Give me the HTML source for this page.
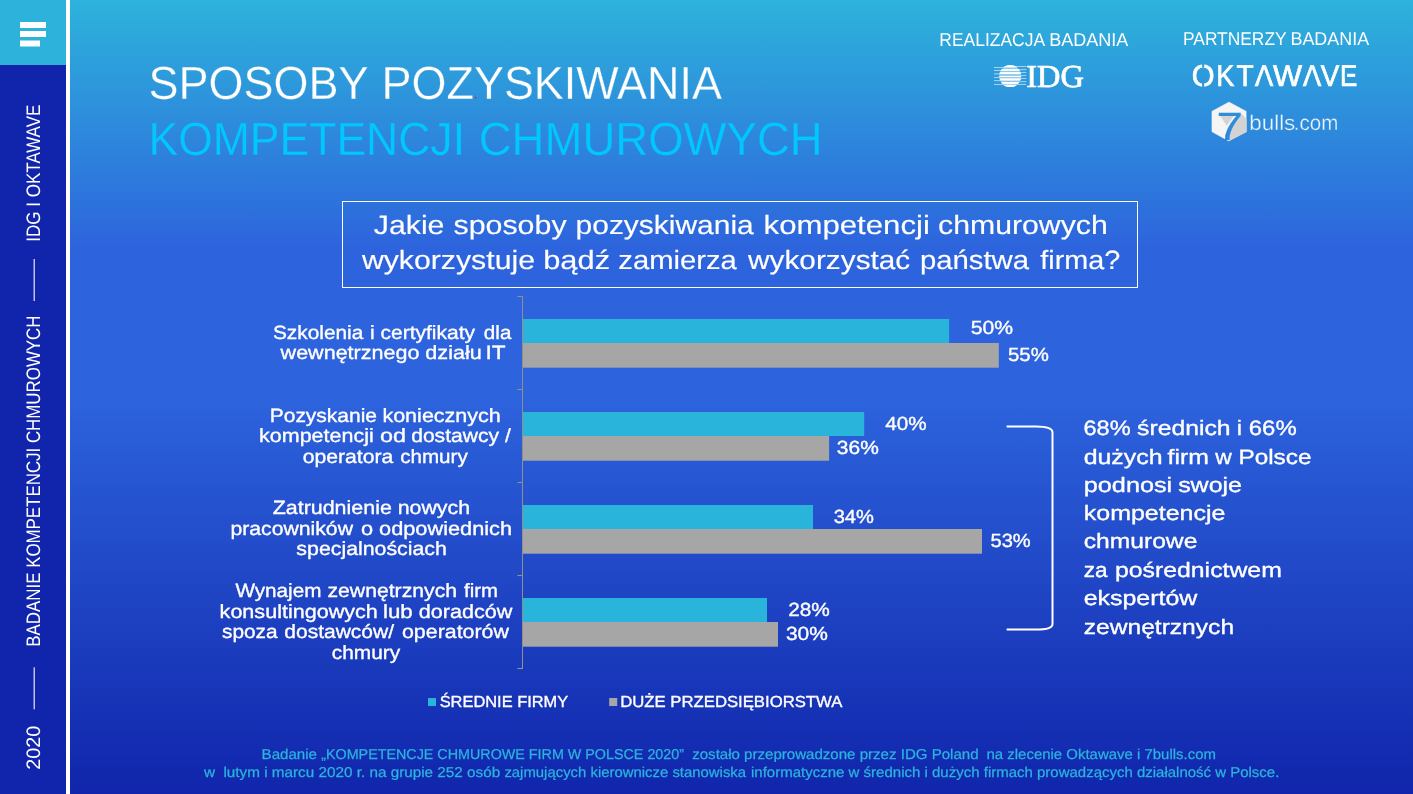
<!DOCTYPE html>
<html lang="pl">
<head>
<meta charset="utf-8">
<title>Sposoby pozyskiwania kompetencji chmurowych</title>
<style>
html,body{margin:0;padding:0;background:#1226a6;overflow:hidden}
svg{display:block;will-change:transform}
text{font-family:"Liberation Sans", sans-serif;white-space:pre;text-rendering:geometricPrecision}
</style>
</head>
<body>
<svg width="1413" height="794" viewBox="0 0 1413 794">
<defs>
<linearGradient id="bg" x1="0" y1="0" x2="0" y2="794" gradientUnits="userSpaceOnUse">
<stop offset="0" stop-color="#2db3db"/>
<stop offset="0.315" stop-color="#2d63dd"/>
<stop offset="0.503" stop-color="#2d63dd"/>
<stop offset="1" stop-color="#1025ab"/>
</linearGradient>
</defs>
<rect x="0" y="0" width="1413" height="794" fill="url(#bg)"/>
<rect x="0" y="0" width="66" height="65" fill="#2db3db"/>
<rect x="0" y="65" width="66" height="729" fill="#1025ab"/>
<rect x="66" y="0" width="4" height="794" fill="#fff"/>
<rect x="20" y="22" width="26" height="6" fill="#fff"/>
<rect x="20" y="31" width="26" height="6" fill="#fff"/>
<rect x="20" y="40.5" width="20" height="6" fill="#fff"/>
<text transform="translate(40.2 241.8) rotate(-90)" x="0" y="0" font-size="19.5" fill="#fff" textLength="137.2" lengthAdjust="spacingAndGlyphs">IDG I OKTAWAVE</text>
<text transform="translate(40.2 646.7) rotate(-90)" x="0" y="0" font-size="19.5" fill="#fff" textLength="331.2" lengthAdjust="spacingAndGlyphs">BADANIE KOMPETENCJI CHMUROWYCH</text>
<text transform="translate(40.2 769.8) rotate(-90)" x="0" y="0" font-size="19.5" fill="#fff" textLength="44" lengthAdjust="spacingAndGlyphs">2020</text>
<rect x="33.6" y="259" width="1.2" height="42" fill="#fff" opacity="0.9"/>
<rect x="33.6" y="667.3" width="1.2" height="42" fill="#fff" opacity="0.9"/>
<text y="99" font-size="46.5" fill="#fff" stroke="url(#bg)" stroke-width="0.3"><tspan x="148.58" textLength="219.05" lengthAdjust="spacingAndGlyphs">SPOSOBY</tspan> <tspan x="381.50" textLength="340.51" lengthAdjust="spacingAndGlyphs">POZYSKIWANIA</tspan></text>
<text y="155" font-size="46.5" fill="#00c8ff" stroke="url(#bg)" stroke-width="0.3"><tspan x="148.44" textLength="316.56" lengthAdjust="spacingAndGlyphs">KOMPETENCJI</tspan> <tspan x="478.72" textLength="343.91" lengthAdjust="spacingAndGlyphs">CHMUROWYCH</tspan></text>
<circle cx="475.5" cy="97.6" r="0.9" fill="#e0202a"/>
<text y="46.4" font-size="18.7" fill="#fff"><tspan x="939.32" textLength="104.82" lengthAdjust="spacingAndGlyphs">REALIZACJA</tspan> <tspan x="1049.26" textLength="79.15" lengthAdjust="spacingAndGlyphs">BADANIA</tspan></text>
<text y="45.0" font-size="18.6" fill="#fff"><tspan x="1183.01" textLength="103.30" lengthAdjust="spacingAndGlyphs">PARTNERZY</tspan> <tspan x="1290.47" textLength="78.64" lengthAdjust="spacingAndGlyphs">BADANIA</tspan></text>
<g>
<clipPath id="gl"><circle cx="1010.2" cy="76.1" r="11"/></clipPath>
<rect x="994" y="66.95" width="12" height="1.1" fill="#fff" opacity="0.55"/>
<rect x="994" y="69.95" width="12" height="1.1" fill="#fff" opacity="0.55"/>
<rect x="994" y="73.35000000000001" width="12" height="1.1" fill="#fff" opacity="0.55"/>
<rect x="994" y="76.95" width="12" height="1.1" fill="#fff" opacity="0.55"/>
<rect x="994" y="80.05" width="12" height="1.1" fill="#fff" opacity="0.55"/>
<rect x="994" y="83.95" width="12" height="1.1" fill="#fff" opacity="0.55"/>
<rect x="1014" y="65.95" width="12.3" height="1.1" fill="#fff" opacity="0.55"/>
<rect x="1014" y="69.05" width="12.3" height="1.1" fill="#fff" opacity="0.55"/>
<rect x="1014" y="71.95" width="12.3" height="1.1" fill="#fff" opacity="0.55"/>
<rect x="1014" y="74.95" width="12.3" height="1.1" fill="#fff" opacity="0.55"/>
<rect x="1014" y="77.95" width="12.3" height="1.1" fill="#fff" opacity="0.55"/>
<rect x="1014" y="81.05" width="12.3" height="1.1" fill="#fff" opacity="0.55"/>
<rect x="1014" y="83.85000000000001" width="12.3" height="1.1" fill="#fff" opacity="0.55"/>
<g clip-path="url(#gl)">
<rect x="998" y="64" width="25" height="24" fill="url(#bg)"/>
<rect x="998" y="64" width="25" height="24" fill="#fff" opacity="0.45"/>
<rect x="998" y="65.0" width="25" height="2.5" fill="#fff"/>
<rect x="998" y="69.1" width="25" height="1.8" fill="#fff"/>
<rect x="998" y="72.1" width="25" height="2.0" fill="#fff"/>
<rect x="998" y="75.9" width="25" height="1.2" fill="#fff"/>
<rect x="998" y="78.3" width="25" height="2.3" fill="#fff"/>
<rect x="998" y="82.0" width="25" height="2.2" fill="#fff"/>
<rect x="998" y="85.0" width="25" height="2.5" fill="#fff"/>
</g></g>
<text x="1026.27" y="87.1" font-size="32" fill="#fff" style='font-family:"Liberation Serif", serif' textLength="57.58" lengthAdjust="spacingAndGlyphs" stroke="#fff" stroke-width="0.7">IDG</text>
<text y="86.0" font-size="30.2" fill="#fff" stroke="#fff" stroke-width="0.7"><tspan x="1191.78" textLength="22.82" lengthAdjust="spacingAndGlyphs">O</tspan><tspan x="1216.13" textLength="18.10" lengthAdjust="spacingAndGlyphs">K</tspan><tspan x="1236.44" textLength="17.15" lengthAdjust="spacingAndGlyphs">T</tspan><tspan x="1254.90" textLength="18.16" lengthAdjust="spacingAndGlyphs">A</tspan><tspan x="1273.05" textLength="29.07" lengthAdjust="spacingAndGlyphs">W</tspan><tspan x="1302.90" textLength="18.16" lengthAdjust="spacingAndGlyphs">A</tspan><tspan x="1320.86" textLength="18.53" lengthAdjust="spacingAndGlyphs">V</tspan><tspan x="1339.93" textLength="17.26" lengthAdjust="spacingAndGlyphs">E</tspan></text>
<rect x="1202.10" y="62.5" width="2.1" height="5.2" fill="url(#bg)"/>
<rect x="1202.10" y="82.6" width="2.1" height="5.2" fill="url(#bg)"/>
<polygon points="1259.55,81.58 1268.45,81.58 1266.69,76.56 1261.33,76.56" fill="url(#bg)"/>
<polygon points="1307.55,81.58 1316.45,81.58 1314.69,76.56 1309.33,76.56" fill="url(#bg)"/>
<rect x="1344.82" y="73.2" width="2.2" height="4.4" fill="url(#bg)"/>
<path d="M1229 102 L1246.2 111.3 V131.8 L1228.6 140.9 L1211.9 131.8 V111.3 Z" fill="#f5f5f6" stroke="#f5f5f6" stroke-width="0.4" stroke-linejoin="round"/>
<path d="M1219.8 115.3 H1234.2 L1226.8 125.8 Z" fill="#d3d3d4"/>
<path d="M1240.4 112.8 L1246.6 119.2 V132 L1228.6 141.3 C1229.5 132 1233.5 122 1240.4 112.8 Z" fill="#d3d3d4"/>
<text fill="#ecf4fc"><tspan x="1216.43" y="140" font-size="39.3" fill="url(#bg)" stroke="url(#bg)" stroke-width="0.2" textLength="26.40" lengthAdjust="spacingAndGlyphs">7</tspan><tspan x="1249.24" y="129.8" font-size="21.2" stroke="url(#bg)" stroke-width="0.3" textLength="46.08" lengthAdjust="spacingAndGlyphs">bulls</tspan><tspan x="1293.86" y="129.8" font-size="21.2" stroke="url(#bg)" stroke-width="0.3" textLength="44.42" lengthAdjust="spacingAndGlyphs">.com</tspan></text>
<rect x="342.5" y="201.5" width="795" height="86" fill="none" stroke="#fff" stroke-width="1"/>
<text y="233.9" font-size="26.4" fill="#fff" stroke="#fff" stroke-width="0.15"><tspan x="373.75" textLength="70.70" lengthAdjust="spacingAndGlyphs">Jakie</tspan> <tspan x="453.49" textLength="113.10" lengthAdjust="spacingAndGlyphs">sposoby</tspan> <tspan x="575.55" textLength="178.22" lengthAdjust="spacingAndGlyphs">pozyskiwania</tspan> <tspan x="763.57" textLength="166.29" lengthAdjust="spacingAndGlyphs">kompetencji</tspan> <tspan x="938.09" textLength="169.66" lengthAdjust="spacingAndGlyphs">chmurowych</tspan></text>
<text y="268.7" font-size="26.4" fill="#fff" stroke="#fff" stroke-width="0.15"><tspan x="361.90" textLength="173.12" lengthAdjust="spacingAndGlyphs">wykorzystuje</tspan> <tspan x="543.19" textLength="66.90" lengthAdjust="spacingAndGlyphs">bądź</tspan> <tspan x="618.33" textLength="118.52" lengthAdjust="spacingAndGlyphs">zamierza</tspan> <tspan x="748.10" textLength="162.16" lengthAdjust="spacingAndGlyphs">wykorzystać</tspan> <tspan x="919.90" textLength="109.09" lengthAdjust="spacingAndGlyphs">państwa</tspan> <tspan x="1040.27" textLength="80.04" lengthAdjust="spacingAndGlyphs">firma?</tspan></text>
<rect x="522" y="296" width="1" height="373" fill="#8f8f90"/>
<rect x="517.4" y="295.95" width="4.7" height="1.1" fill="#8f8f90"/>
<rect x="517.4" y="388.95" width="4.7" height="1.1" fill="#8f8f90"/>
<rect x="517.4" y="481.95" width="4.7" height="1.1" fill="#8f8f90"/>
<rect x="517.4" y="574.95" width="4.7" height="1.1" fill="#8f8f90"/>
<rect x="517.4" y="667.95" width="4.7" height="1.1" fill="#8f8f90"/>
<rect x="523" y="319" width="426.1" height="24" fill="#29b4db"/>
<rect x="523" y="343" width="475.8" height="24.7" fill="#a6a6a6"/>
<rect x="523" y="412" width="341.2" height="24" fill="#29b4db"/>
<rect x="523" y="436" width="306.1" height="24.7" fill="#a6a6a6"/>
<rect x="523" y="505" width="290.0" height="24" fill="#29b4db"/>
<rect x="523" y="529" width="459.0" height="24.7" fill="#a6a6a6"/>
<rect x="523" y="598" width="244.0" height="24" fill="#29b4db"/>
<rect x="523" y="622" width="255.0" height="24.7" fill="#a6a6a6"/>
<text x="970.65" y="333.7" font-size="19" fill="#fff" textLength="42.32" lengthAdjust="spacingAndGlyphs" stroke="#fff" stroke-width="0.35">50%</text>
<text x="1007.99" y="360.7" font-size="19" fill="#fff" textLength="40.76" lengthAdjust="spacingAndGlyphs" stroke="#fff" stroke-width="0.35">55%</text>
<text x="885.39" y="429.7" font-size="19" fill="#fff" textLength="41.37" lengthAdjust="spacingAndGlyphs" stroke="#fff" stroke-width="0.35">40%</text>
<text x="836.86" y="453.8" font-size="19" fill="#fff" textLength="41.9" lengthAdjust="spacingAndGlyphs" stroke="#fff" stroke-width="0.35">36%</text>
<text x="833.7" y="522.7" font-size="19" fill="#fff" textLength="40.24" lengthAdjust="spacingAndGlyphs" stroke="#fff" stroke-width="0.35">34%</text>
<text x="990.5" y="546.9000000000001" font-size="19" fill="#fff" textLength="40.24" lengthAdjust="spacingAndGlyphs" stroke="#fff" stroke-width="0.35">53%</text>
<text x="788.16" y="615.8000000000001" font-size="19" fill="#fff" textLength="41.7" lengthAdjust="spacingAndGlyphs" stroke="#fff" stroke-width="0.35">28%</text>
<text x="785.96" y="639.5" font-size="19" fill="#fff" textLength="41.9" lengthAdjust="spacingAndGlyphs" stroke="#fff" stroke-width="0.35">30%</text>
<text y="338.7" font-size="19.2" fill="#fff" stroke="#fff" stroke-width="0.35"><tspan x="272.96" textLength="90.36" lengthAdjust="spacingAndGlyphs">Szkolenia</tspan> <tspan x="369.93" textLength="105.19" lengthAdjust="spacingAndGlyphs">i certyfikaty</tspan> <tspan x="483.88" textLength="27.52" lengthAdjust="spacingAndGlyphs">dla</tspan></text>
<text y="358.59999999999997" font-size="19.2" fill="#fff" stroke="#fff" stroke-width="0.35"><tspan x="280.60" textLength="138.84" lengthAdjust="spacingAndGlyphs">wewnętrznego</tspan> <tspan x="425.34" textLength="56.43" lengthAdjust="spacingAndGlyphs">działu</tspan> <tspan x="485.47" textLength="20.05" lengthAdjust="spacingAndGlyphs">IT</tspan></text>
<text y="421.5" font-size="19.2" fill="#fff" stroke="#fff" stroke-width="0.35"><tspan x="269.72" textLength="107.30" lengthAdjust="spacingAndGlyphs">Pozyskanie</tspan> <tspan x="382.40" textLength="118.46" lengthAdjust="spacingAndGlyphs">koniecznych</tspan></text>
<text y="442.0" font-size="19.2" fill="#fff" stroke="#fff" stroke-width="0.35"><tspan x="259.10" textLength="114.62" lengthAdjust="spacingAndGlyphs">kompetencji</tspan> <tspan x="379.96" textLength="26.01" lengthAdjust="spacingAndGlyphs">od</tspan> <tspan x="411.16" textLength="99.63" lengthAdjust="spacingAndGlyphs">dostawcy /</tspan></text>
<text y="462.5" font-size="19.2" fill="#fff" stroke="#fff" stroke-width="0.35"><tspan x="302.65" textLength="90.67" lengthAdjust="spacingAndGlyphs">operatora</tspan> <tspan x="400.18" textLength="67.59" lengthAdjust="spacingAndGlyphs">chmury</tspan></text>
<text y="514.1999999999999" font-size="19.2" fill="#fff" stroke="#fff" stroke-width="0.35"><tspan x="272.66" textLength="119.19" lengthAdjust="spacingAndGlyphs">Zatrudnienie</tspan> <tspan x="397.71" textLength="72.29" lengthAdjust="spacingAndGlyphs">nowych</tspan></text>
<text y="534.6999999999999" font-size="19.2" fill="#fff" stroke="#fff" stroke-width="0.35"><tspan x="230.42" textLength="122.58" lengthAdjust="spacingAndGlyphs">pracowników</tspan> <tspan x="360.93" textLength="151.18" lengthAdjust="spacingAndGlyphs">o odpowiednich</tspan></text>
<text y="555.1999999999999" font-size="19.2" fill="#fff" stroke="#fff" stroke-width="0.35"><tspan x="296.36" textLength="150.52" lengthAdjust="spacingAndGlyphs">specjalnościach</tspan></text>
<text y="597.0" font-size="19.2" fill="#fff" stroke="#fff" stroke-width="0.35"><tspan x="235.40" textLength="86.02" lengthAdjust="spacingAndGlyphs">Wynajem</tspan> <tspan x="327.45" textLength="129.60" lengthAdjust="spacingAndGlyphs">zewnętrznych</tspan> <tspan x="463.99" textLength="33.95" lengthAdjust="spacingAndGlyphs">firm</tspan></text>
<text y="617.5" font-size="19.2" fill="#fff" stroke="#fff" stroke-width="0.35"><tspan x="219.60" textLength="158.26" lengthAdjust="spacingAndGlyphs">konsultingowych</tspan> <tspan x="382.95" textLength="29.73" lengthAdjust="spacingAndGlyphs">lub</tspan> <tspan x="418.74" textLength="93.58" lengthAdjust="spacingAndGlyphs">doradców</tspan></text>
<text y="638.0" font-size="19.2" fill="#fff" stroke="#fff" stroke-width="0.35"><tspan x="221.97" textLength="55.70" lengthAdjust="spacingAndGlyphs">spoza</tspan> <tspan x="284.26" textLength="109.83" lengthAdjust="spacingAndGlyphs">dostawców/</tspan> <tspan x="401.94" textLength="107.02" lengthAdjust="spacingAndGlyphs">operatorów</tspan></text>
<text y="658.5" font-size="19.2" fill="#fff" stroke="#fff" stroke-width="0.35"><tspan x="331.77" textLength="68.40" lengthAdjust="spacingAndGlyphs">chmury</tspan></text>
<rect x="428" y="698" width="8" height="8" fill="#29b4db"/>
<text x="439.66" y="706.5" font-size="16" fill="#fff" textLength="128.54" lengthAdjust="spacingAndGlyphs" stroke="#fff" stroke-width="0.35">ŚREDNIE FIRMY</text>
<rect x="609.2" y="698" width="8" height="8" fill="#a6a6a6"/>
<text x="620.26" y="706.5" font-size="16" fill="#fff" textLength="222.08" lengthAdjust="spacingAndGlyphs" stroke="#fff" stroke-width="0.35">DUŻE PRZEDSIĘBIORSTWA</text>
<path d="M1006.6 426.6 H1036 C1046 426.6 1052.5 428.5 1052.5 432.5 V624 C1052.5 628 1046 629.6 1036 629.6 H1006.6" fill="none" stroke="#fff" stroke-width="2"/>
<text y="435.4" font-size="20.8" fill="#fff" stroke="#fff" stroke-width="0.35"><tspan x="1083.52" textLength="47.14" lengthAdjust="spacingAndGlyphs">68%</tspan> <tspan x="1137.06" textLength="93.45" lengthAdjust="spacingAndGlyphs">średnich</tspan> <tspan x="1236.85" textLength="59.83" lengthAdjust="spacingAndGlyphs">i 66%</tspan></text>
<text y="464.2" font-size="20.8" fill="#fff" stroke="#fff" stroke-width="0.35"><tspan x="1083.71" textLength="78.80" lengthAdjust="spacingAndGlyphs">dużych</tspan> <tspan x="1167.53" textLength="41.29" lengthAdjust="spacingAndGlyphs">firm</tspan> <tspan x="1215.30" textLength="16.54" lengthAdjust="spacingAndGlyphs">w</tspan> <tspan x="1238.45" textLength="72.98" lengthAdjust="spacingAndGlyphs">Polsce</tspan></text>
<text y="492.3" font-size="20.8" fill="#fff" stroke="#fff" stroke-width="0.35"><tspan x="1083.76" textLength="88.46" lengthAdjust="spacingAndGlyphs">podnosi</tspan> <tspan x="1178.15" textLength="63.81" lengthAdjust="spacingAndGlyphs">swoje</tspan></text>
<text y="520.4" font-size="20.8" fill="#fff" stroke="#fff" stroke-width="0.35"><tspan x="1083.78" textLength="141.55" lengthAdjust="spacingAndGlyphs">kompetencje</tspan></text>
<text y="548.4" font-size="20.8" fill="#fff" stroke="#fff" stroke-width="0.35"><tspan x="1083.71" textLength="113.67" lengthAdjust="spacingAndGlyphs">chmurowe</tspan></text>
<text y="577.2" font-size="20.8" fill="#fff" stroke="#fff" stroke-width="0.35"><tspan x="1083.79" textLength="23.93" lengthAdjust="spacingAndGlyphs">za</tspan> <tspan x="1114.99" textLength="166.83" lengthAdjust="spacingAndGlyphs">pośrednictwem</tspan></text>
<text y="605.4" font-size="20.8" fill="#fff" stroke="#fff" stroke-width="0.35"><tspan x="1083.70" textLength="113.64" lengthAdjust="spacingAndGlyphs">ekspertów</tspan></text>
<text y="633.6" font-size="20.8" fill="#fff" stroke="#fff" stroke-width="0.35"><tspan x="1083.72" textLength="150.36" lengthAdjust="spacingAndGlyphs">zewnętrznych</tspan></text>
<text y="758.8" font-size="14.3" fill="#2bb4dd" stroke="#2bb4dd" stroke-width="0.25"><tspan x="261.59" textLength="55.39" lengthAdjust="spacingAndGlyphs">Badanie</tspan> <tspan x="321.23" textLength="362.80" lengthAdjust="spacingAndGlyphs">„KOMPETENCJE CHMUROWE FIRM W POLSCE 2020”</tspan> <tspan x="692.20" textLength="286.39" lengthAdjust="spacingAndGlyphs">zostało przeprowadzone przez IDG Poland</tspan> <tspan x="986.53" textLength="229.39" lengthAdjust="spacingAndGlyphs">na zlecenie Oktawave i 7bulls.com</tspan></text>
<text y="777" font-size="14.3" fill="#2bb4dd" stroke="#2bb4dd" stroke-width="0.25"><tspan x="203.90" textLength="296.31" lengthAdjust="spacingAndGlyphs">w  lutym i marcu 2020 r. na grupie 252 osób</tspan> <tspan x="504.40" textLength="241.68" lengthAdjust="spacingAndGlyphs">zajmujących kierownicze stanowiska</tspan> <tspan x="751.02" textLength="228.53" lengthAdjust="spacingAndGlyphs">informatyczne w średnich i dużych</tspan> <tspan x="983.78" textLength="295.59" lengthAdjust="spacingAndGlyphs">firmach prowadzących działalność w Polsce.</tspan></text>
</svg>
</body>
</html>
